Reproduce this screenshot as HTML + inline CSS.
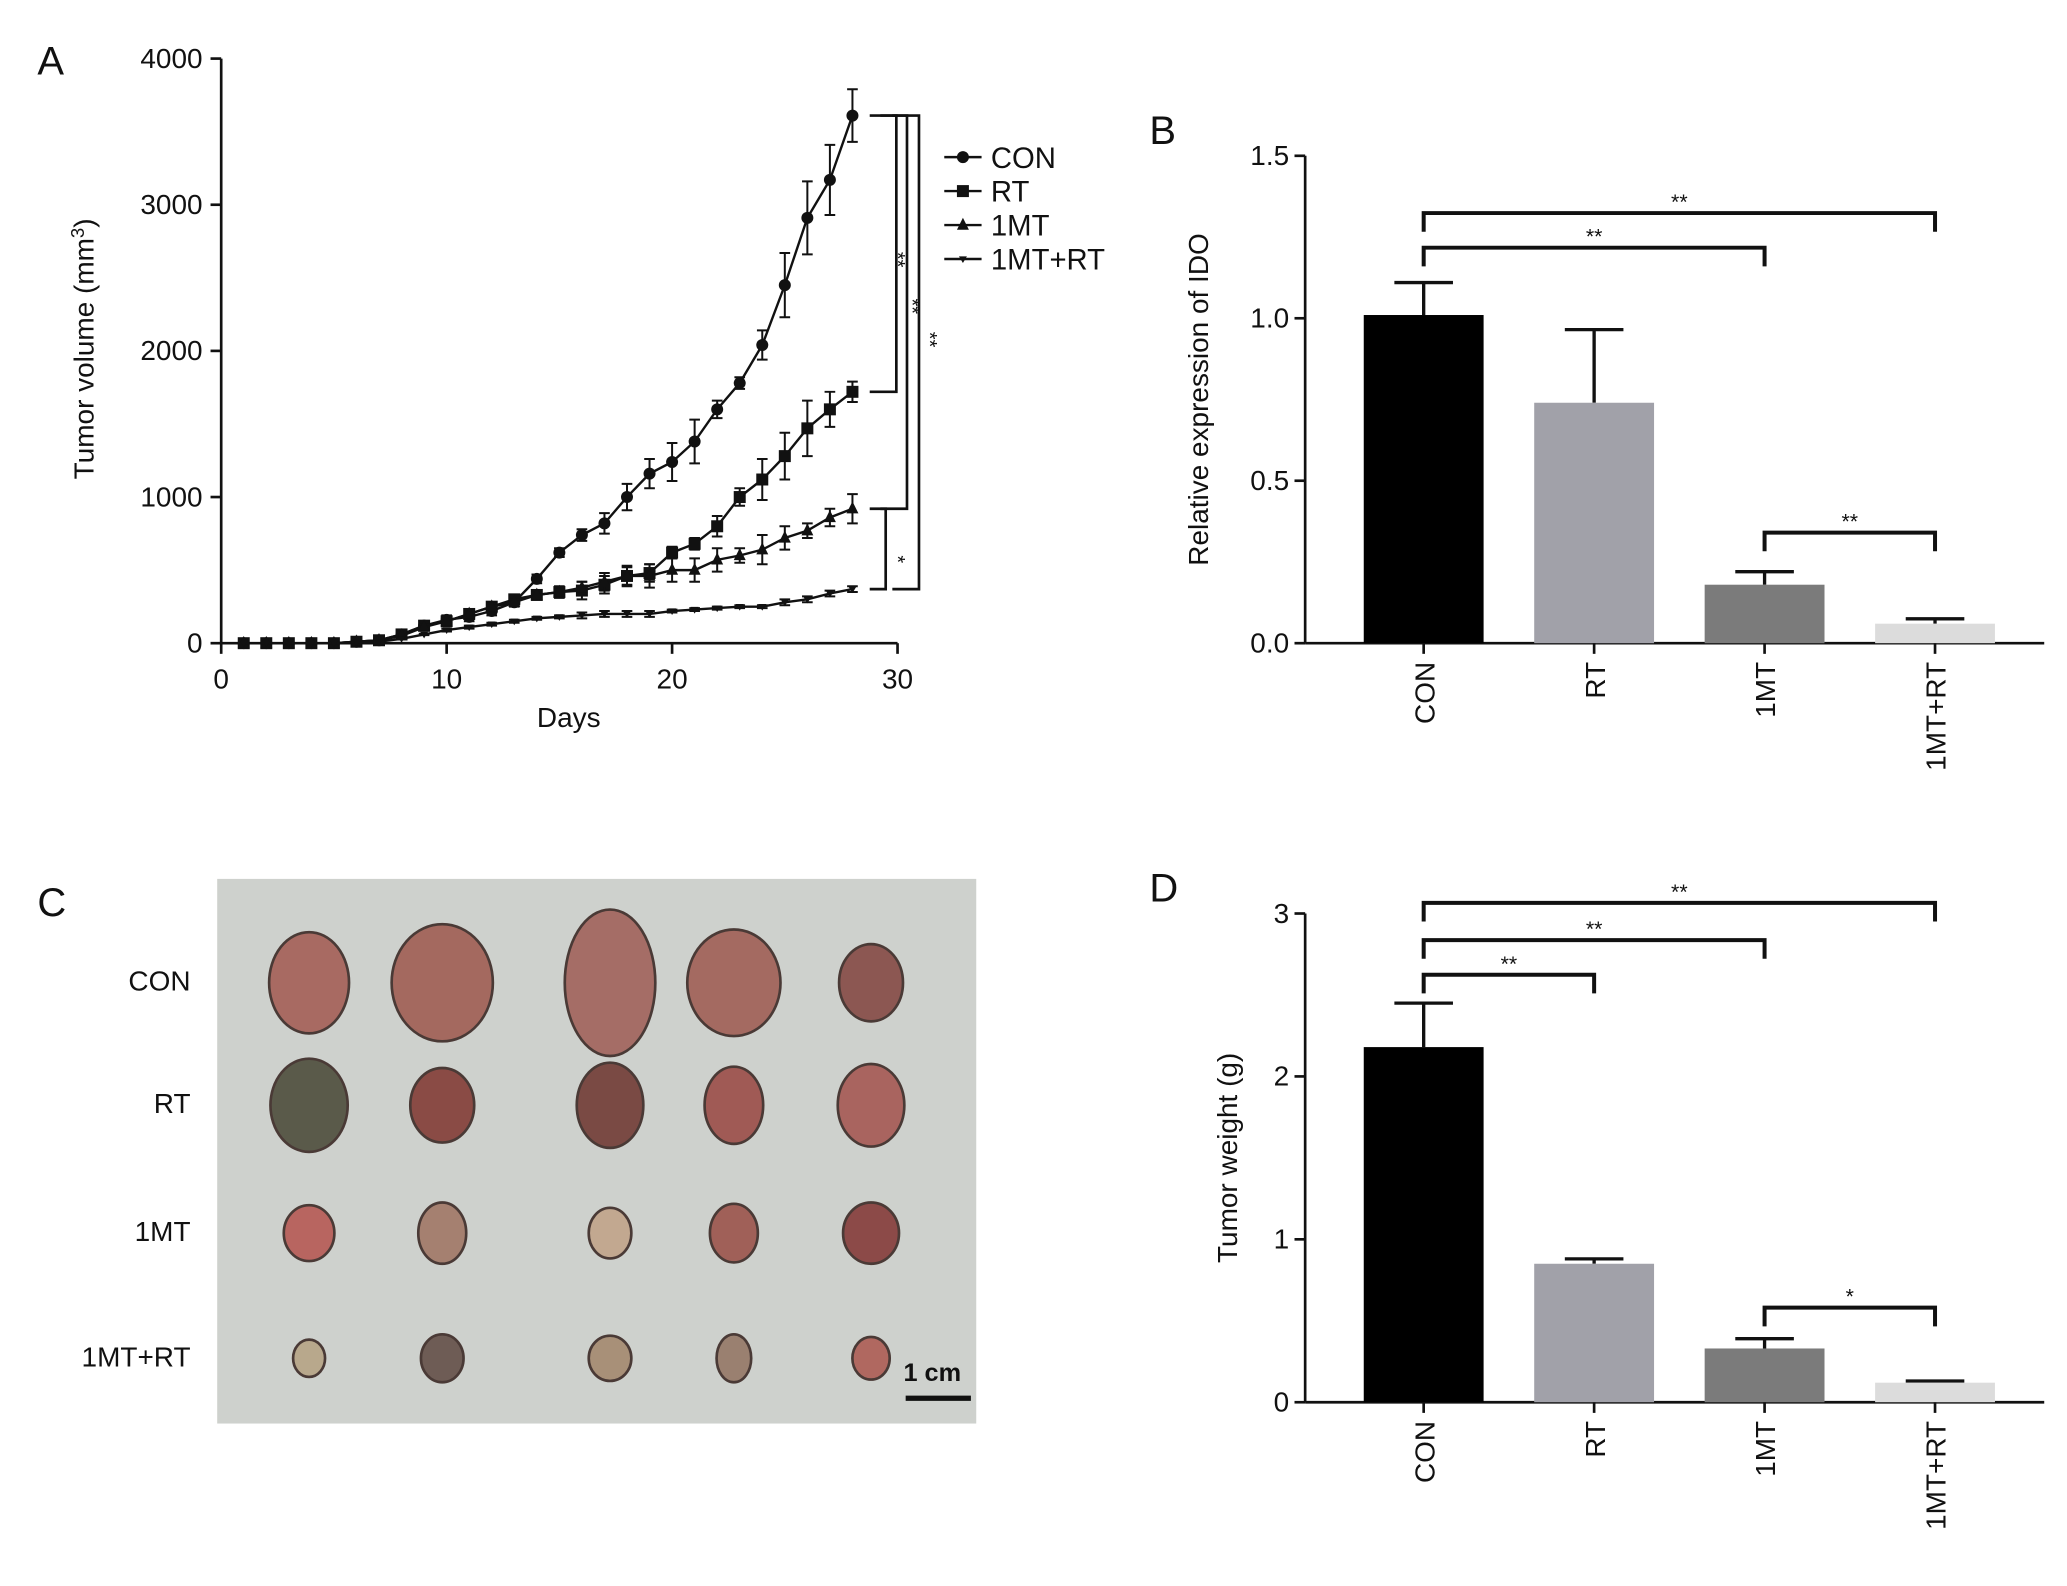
<!DOCTYPE html>
<html><head><meta charset="utf-8"><style>
html,body{margin:0;padding:0;background:#fff}
svg{display:block}
text{font-family:"Liberation Sans",Arial,sans-serif;fill:#111}
</style></head><body>
<svg id="fig" width="2067" height="1586" viewBox="0 0 1552 1191" xmlns="http://www.w3.org/2000/svg">
<g id="A"></g>
<g id="B"></g>
<g id="C"></g>
<g id="D"></g>
</svg>
<script>
const days=[1,2,3,4,5,6,7,8,9,10,11,12,13,14,15,16,17,18,19,20,21,22,23,24,25,26,27,28];
const conVals=[0,0,0,0,0,10,20,60,120,160,180,220,280,440,620,740,820,1000,1160,1240,1380,1600,1780,2040,2450,2910,3170,3610];
const conErr=[0,0,0,0,0,5,10,20,30,30,30,30,30,30,30,40,70,90,100,130,150,60,40,100,220,250,240,180];
const rtVals=[0,0,0,0,0,10,20,60,120,150,200,250,300,330,350,360,400,460,480,620,680,800,1000,1120,1280,1470,1600,1720];
const rtErr=[0,0,0,0,0,5,10,20,20,20,20,20,20,30,40,60,60,60,60,40,40,70,60,140,160,190,120,70];
const mtVals=[0,0,0,0,0,10,20,50,110,150,200,250,280,330,350,380,420,460,460,500,500,570,600,640,720,770,860,920];
const mtErr=[0,0,0,0,0,5,5,10,20,20,20,20,20,30,30,40,60,70,80,80,80,80,50,100,80,50,60,100];
const mrVals=[0,0,0,0,0,5,10,30,60,90,110,130,150,170,180,190,200,200,200,220,230,240,250,250,280,300,340,370];
const mrErr=[0,0,0,0,0,2,5,5,5,10,10,10,10,10,10,20,20,20,20,10,10,10,10,10,20,20,20,20];
const xTicks=[0,10,20,30];
const yTicks=[0,1000,2000,3000,4000];
const barCats=["CON","RT","1MT","1MT+RT"];
const idoVals=[1.01,0.74,0.18,0.06];
const idoErr=[0.1,0.225,0.04,0.015];
const idoTicks=["0.0","0.5","1.0","1.5"];
const wVals=[2.18,0.85,0.33,0.12];
const wErr=[0.27,0.03,0.06,0.01];
const wTicks=["0","1","2","3"];
const barColors=["#000","#a1a1a9","#7b7b7b","#dcdcdc"];
const NS="http://www.w3.org/2000/svg";
function mk(p,tag,at,txt){const e=document.createElementNS(NS,tag);for(const k in at)e.setAttribute(k,at[k]);if(txt!==undefined)e.textContent=txt;p.appendChild(e);return e;}
// ---------- Panel A
const A=document.getElementById('A');
const ax=d=>166+d*16.93, ay=v=>483-v*0.10975;
mk(A,'text',{x:28,y:56,'font-size':30},'A');
let e=mk(A,'line',{x1:166,y1:44,x2:166,y2:483,stroke:'#111','stroke-width':2});

e=mk(A,'line',{x1:166,y1:483,x2:ax(30),y2:483,stroke:'#111','stroke-width':2});

yTicks.forEach(v=>{mk(A,'line',{x1:158,x2:166,y1:ay(v),y2:ay(v),stroke:'#111','stroke-width':2});
 const t=mk(A,'text',{x:152,y:ay(v)+7,'font-size':21,'text-anchor':'end'},String(v));
 });
xTicks.forEach(v=>{mk(A,'line',{x1:ax(v),x2:ax(v),y1:483,y2:491,stroke:'#111','stroke-width':2});
 const t=mk(A,'text',{x:ax(v),y:517,'font-size':21,'text-anchor':'middle'},String(v));
 });
e=mk(A,'text',{x:427,y:546,'font-size':21,'text-anchor':'middle'},'Days');

e=mk(A,'text',{transform:'translate(70,262) rotate(-90)','font-size':21,'text-anchor':'middle'});
e.innerHTML='Tumor volume (mm<tspan dy="-7" font-size="14">3</tspan><tspan dy="7">)</tspan>';

function marker(g,kind,x,y,s){
 if(kind==='c')return mk(g,'circle',{cx:x,cy:y,r:s,fill:'#111'});
 if(kind==='s')return mk(g,'rect',{x:x-s,y:y-s,width:2*s,height:2*s,fill:'#111'});
 if(kind==='t')return mk(g,'polygon',{points:`${x},${y-s-1} ${x-s},${y+s-1} ${x+s},${y+s-1}`,fill:'#111'});
 return mk(g,'polygon',{points:`${x-s},${y-s+1} ${x+s},${y-s+1} ${x},${y+s}`,fill:'#111'});
}
const series=[["con",conVals,conErr,'c',4.5],["rt",rtVals,rtErr,'s',4.5],["1mt",mtVals,mtErr,'t',4.5],["1mt-rt",mrVals,mrErr,'v',3]];
series.forEach(([nm,vals,err,k,s])=>{
 const g=mk(A,'g',{});
 
 mk(g,'polyline',{points:days.map((d,i)=>ax(d)+','+ay(vals[i])).join(' '),fill:'none',stroke:'#111','stroke-width':1.8});
 days.forEach((d,i)=>{
  if(err[i]>0){const x=ax(d),y1=ay(vals[i]+err[i]),y2=ay(vals[i]-err[i]);
   mk(g,'path',{d:`M${x},${y1}V${y2}M${x-4},${y1}H${x+4}M${x-4},${y2}H${x+4}`,stroke:'#111','stroke-width':1.5,fill:'none'});}
  const m=marker(g,k,ax(d),ay(vals[i]),s);
  
 });
});
// significance brackets
function vbr(g,x,ya,yb,w){mk(g,'path',{d:`M${x-w},${ya}H${x}V${yb}H${x-w}`,stroke:'#111','stroke-width':2,fill:'none'});}
const sg=mk(A,'g',{});
vbr(sg,673,ay(3610),ay(1720),20);vbr(sg,681,ay(3610),ay(920),20);vbr(sg,690,ay(3610),ay(370),20);vbr(sg,665,ay(920),ay(370),12);
[[669,195,'**'],[680,230,'**'],[693,255,'**'],[669,420,'*']].forEach(([x,y,t])=>mk(sg,'text',{transform:`translate(${x},${y}) rotate(90)`,'font-size':15,'text-anchor':'middle'},t));
// legend
const lg=mk(A,'g',{});
[["CON",'c',4.5],["RT",'s',4.5],["1MT",'t',4.5],["1MT+RT",'v',3]].forEach(([t,k,s],i)=>{
 const y=118+i*25.5;const ent=mk(lg,'g',{});
 
 mk(ent,'line',{x1:709,x2:737,y1:y,y2:y,stroke:'#111','stroke-width':1.8});marker(ent,k,723,y,s);
 mk(ent,'text',{x:744,y:y+8,'font-size':22},t);
});
// ---------- bar charts
function barChart(G,label,labelY,top,bot,vals,errs,ticks,maxV,title,sigs){
 const base=980,right=1535,cx=[1069,1197,1325,1453];
 const sy=v=>bot-v/maxV*(bot-top);
 mk(G,'text',{x:863,y:labelY,'font-size':30},label);
 let e=mk(G,'line',{x1:base,x2:base,y1:top,y2:bot,stroke:'#111','stroke-width':2});
 
 e=mk(G,'line',{x1:base,x2:right,y1:bot,y2:bot,stroke:'#111','stroke-width':2});
 
 ticks.forEach((t,i)=>{const v=maxV*i/(ticks.length-1);
  mk(G,'line',{x1:base-8,x2:base,y1:sy(v),y2:sy(v),stroke:'#111','stroke-width':2});
  const tt=mk(G,'text',{x:base-12,y:sy(v)+7,'font-size':21,'text-anchor':'end'},t);
  });
 e=mk(G,'text',{transform:`translate(${title.x},${(top+bot)/2}) rotate(-90)`,'font-size':21,'text-anchor':'middle'},title.t);
 
 vals.forEach((v,i)=>{
  const x=cx[i],w=90;
  const ey=sy(v+errs[i]);
  mk(G,'path',{d:`M${x},${sy(v)}V${ey}M${x-22},${ey}H${x+22}`,stroke:'#111','stroke-width':2.5,fill:'none'});
  const r=mk(G,'rect',{x:x-w/2,y:sy(v),width:w,height:bot-sy(v),fill:barColors[i]});
  
  mk(G,'line',{x1:x,x2:x,y1:bot,y2:bot+8,stroke:'#111','stroke-width':2});
  const t=mk(G,'text',{transform:`translate(${x+8},${bot+14}) rotate(-90)`,'font-size':21,'text-anchor':'end'},barCats[i]);
  
 });
 const sg=mk(G,'g',{});
 sigs.forEach(([a,b,y,t])=>{
  mk(sg,'path',{d:`M${cx[a]},${y+14}V${y}H${cx[b]}V${y+14}`,stroke:'#111','stroke-width':3,fill:'none'});
  mk(sg,'text',{x:(cx[a]+cx[b])/2,y:y-3,'font-size':16,'text-anchor':'middle'},t);
 });
}
barChart(document.getElementById('B'),'B',108,117,483,idoVals,idoErr,idoTicks,1.5,{x:907,t:'Relative expression of IDO'},
 [[0,3,160,'**'],[0,2,186,'**'],[2,3,400,'**']]);
barChart(document.getElementById('D'),'D',677,686,1053,wVals,wErr,wTicks,3,{x:929,t:'Tumor weight (g)'},
 [[0,3,678,'**'],[0,2,706,'**'],[0,1,732,'**'],[2,3,982,'*']]);
// ---------- Panel C photo
const C=document.getElementById('C');
mk(C,'text',{x:28,y:688,'font-size':30},'C');
e=mk(C,'rect',{x:163,y:660,width:570,height:409,fill:'#ced1cd'});

const rowLabels=["CON","RT","1MT","1MT+RT"],rowY=[738,830,926,1020];
rowLabels.forEach((t,i)=>{const l=mk(C,'text',{x:143,y:rowY[i]+6,'font-size':21,'text-anchor':'end'},t);
 });
const colX=[232,332,458,551,654];
const sizes=[[[30,38],[38,44],[34,55],[35,40],[24,29]],[[29,35],[24,28],[25,32],[22,29],[25,31]],[[19,21],[18,23],[16,19],[18,22],[21,23]],[[12,14],[16,18],[16,17],[13,18],[14,16]]];
const tcol=[["#a86a62","#a4695f","#a56d66","#a46a61","#8c5752"],["#5a5a4a","#8a4b45","#7a4a44","#a05a55","#a9645f"],["#b86560","#a58070","#c2a890","#a06058","#8c4a48"],["#b8a88c","#6e5c55","#a89078","#9a8070","#b06860"]];
sizes.forEach((row,r)=>row.forEach(([rx,ry],c)=>{
 const el=mk(C,'ellipse',{cx:colX[c],cy:rowY[r],rx:rx,ry:ry,fill:tcol[r][c],stroke:'#4a3a36','stroke-width':2});
 
}));
e=mk(C,'text',{x:700,y:1037,'font-size':19,'font-weight':'bold','text-anchor':'middle'},'1 cm');

e=mk(C,'line',{x1:680,x2:729,y1:1050,y2:1050,stroke:'#111','stroke-width':4});

</script>
</body></html>
